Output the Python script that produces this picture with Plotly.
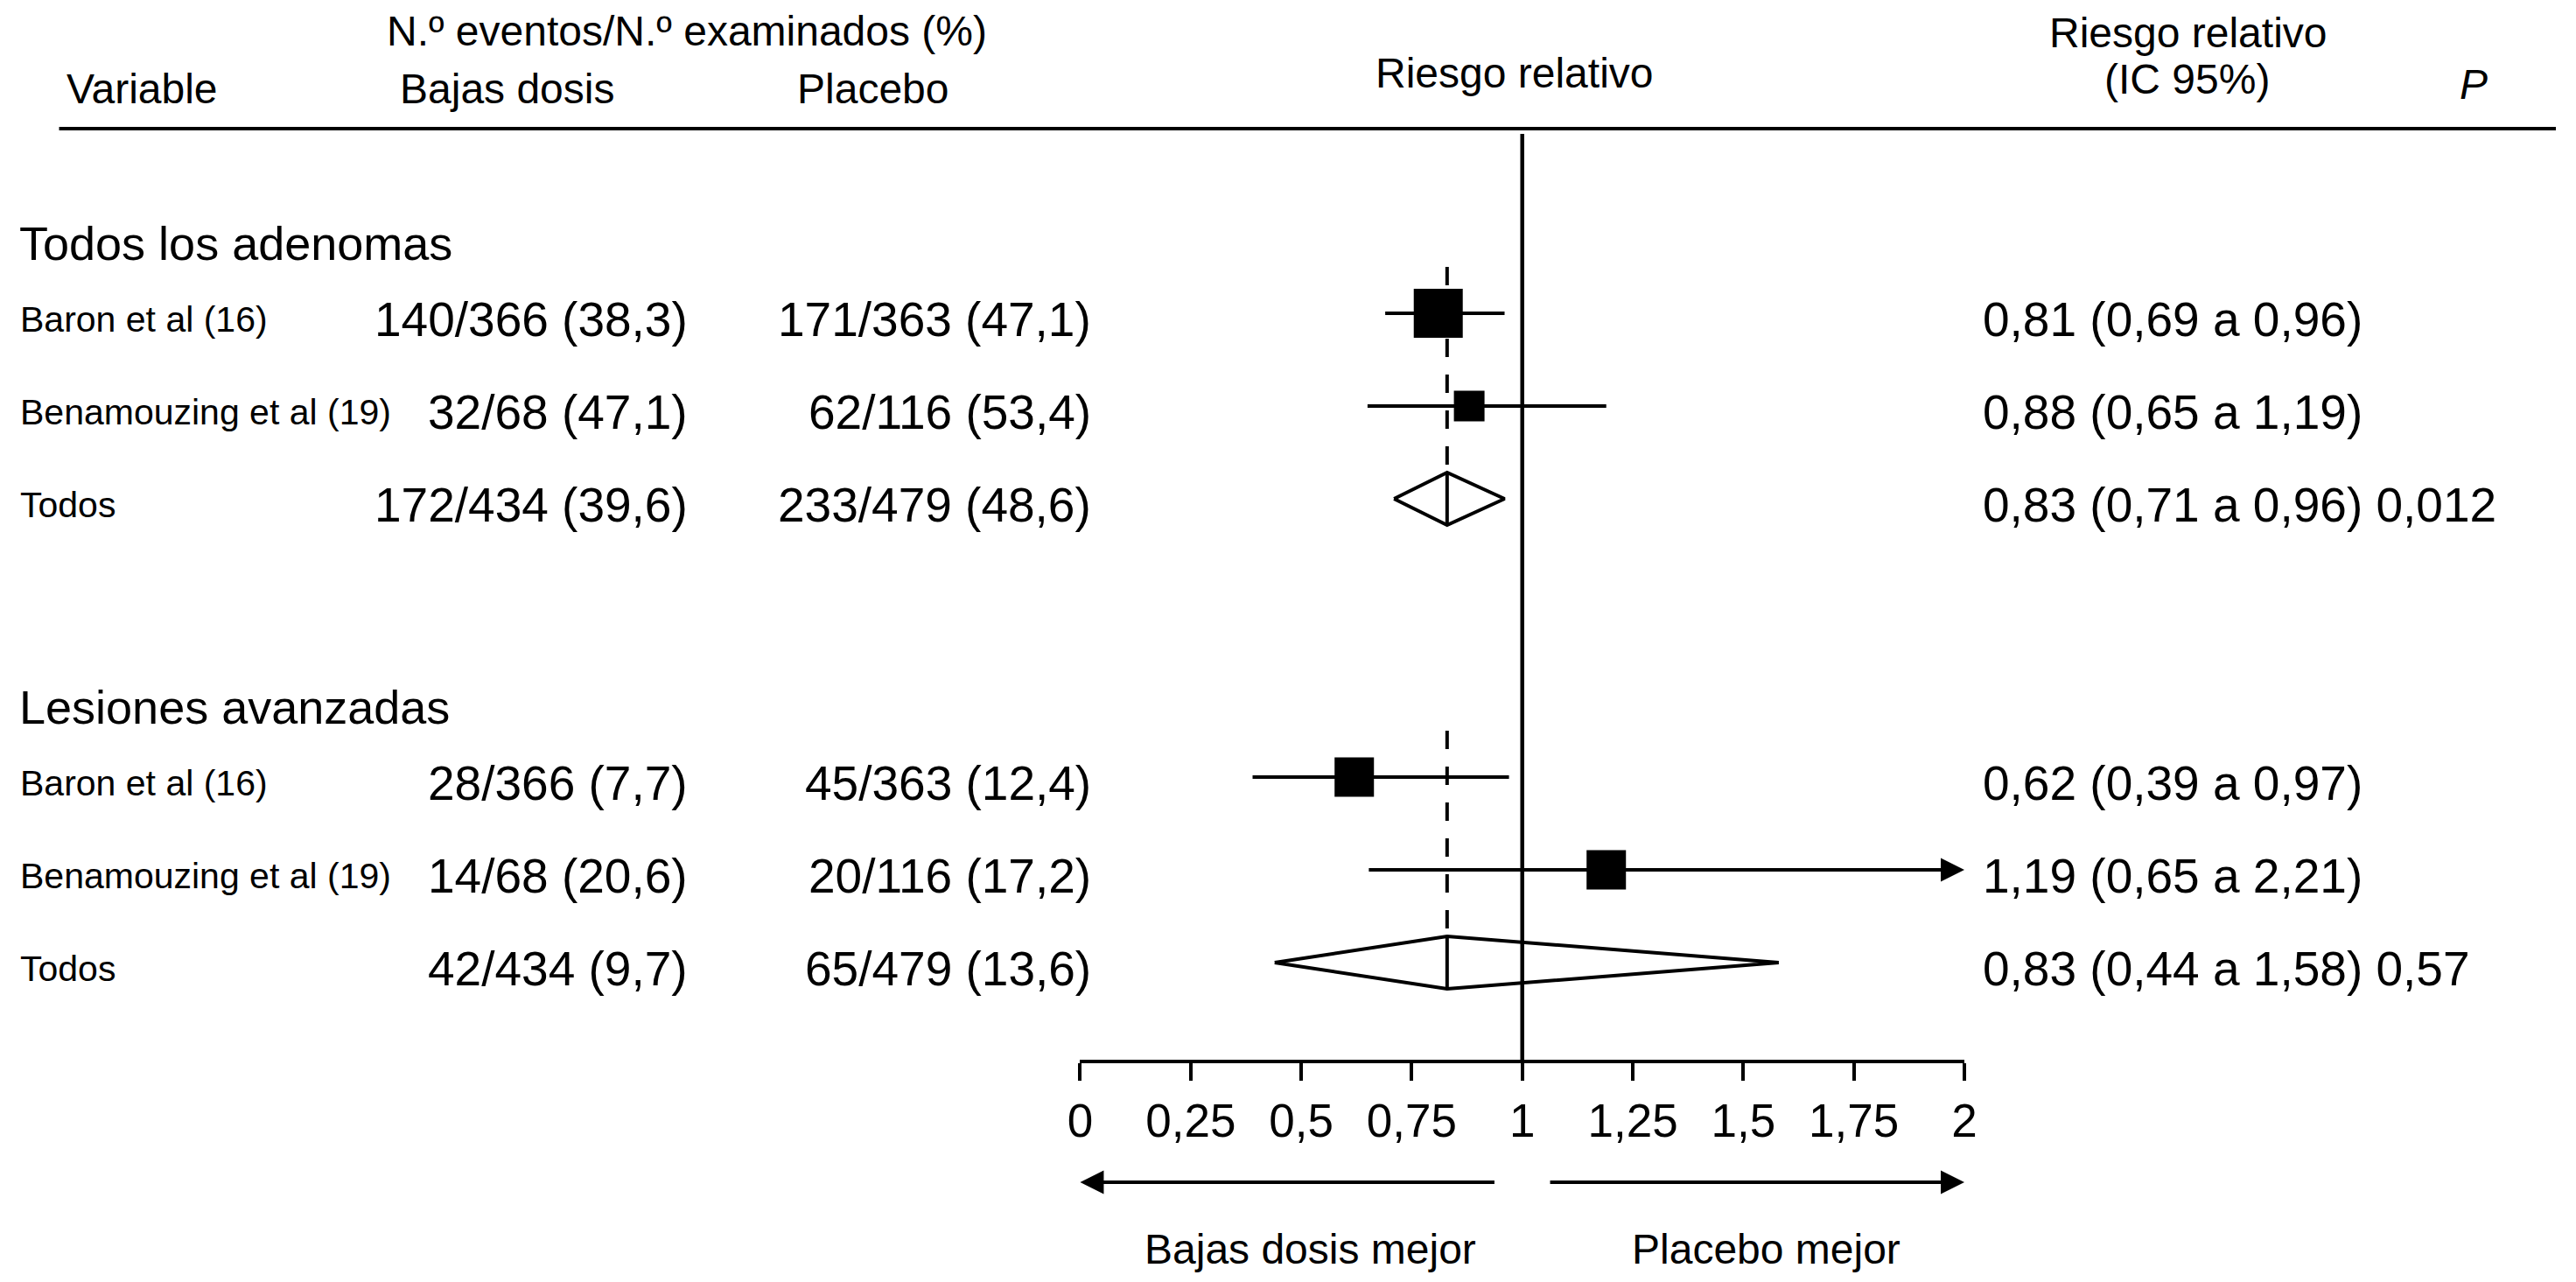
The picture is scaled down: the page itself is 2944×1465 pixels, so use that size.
import plotly.graph_objects as go

# ---- data ----
groups = ["Todos los adenomas", "Lesiones avanzadas"]
studies = ["Baron et al (16)", "Benamouzing et al (19)", "Todos"]
low_dose = ["140/366 (38,3)", "32/68 (47,1)", "172/434 (39,6)",
            "28/366 (7,7)", "14/68 (20,6)", "42/434 (9,7)"]
placebo = ["171/363 (47,1)", "62/116 (53,4)", "233/479 (48,6)",
           "45/363 (12,4)", "20/116 (17,2)", "65/479 (13,6)"]
rr = [0.81, 0.88, 0.83, 0.62, 1.19, 0.83]
ci_lo = [0.69, 0.65, 0.71, 0.39, 0.65, 0.44]
ci_hi = [0.96, 1.19, 0.96, 0.97, 2.21, 1.58]
p_vals = ["", "", "0,012", "", "", "0,57"]
pooled = [False, False, True, False, False, True]
tick_vals = [0, 0.25, 0.5, 0.75, 1, 1.25, 1.5, 1.75, 2]
tick_text = ["0", "0,25", "0,5", "0,75", "1", "1,25", "1,5", "1,75", "2"]

# ---- layout, in pixels of the 2944x1465 page ----
PAGE_W, PAGE_H = 2944, 1465
BODY = 8                        # browser default body margin
W, H = PAGE_W - 2 * BODY, PAGE_H - 2 * BODY
X0_PX, X2_PX = 1232, 2253       # where 0 and 2 sit on the axis
AXIS_PX = 1211                  # axis line
ROW0_PX, STEP = 252, 106        # row index 0 and row spacing
box_size = [56, 35, 0, 45, 45, 0]
DH = 30 / STEP                  # half height of the diamonds
FONT = "Liberation Sans, Arial, Helvetica, sans-serif"
XMAX = 2

row_y = [1 + 5 * g + k for g in range(len(groups)) for k in range(len(studies))]


def px(x):
    return (x - BODY) / W


def py(y):
    return 1 - (y - BODY) / H


def row_of(y):
    return (y - ROW0_PX) / STEP


fig = go.Figure()

# dashed line at the pooled estimate
for i, r in enumerate(rr):
    if pooled[i]:
        first = row_y[i] - 2
        fig.add_trace(go.Scatter(x=[r, r], y=[first - 0.5, row_y[i] - DH], mode="lines",
                                 line=dict(color="black", width=4, dash="21px,20px"),
                                 hoverinfo="skip", showlegend=False))

# confidence intervals
cx, cy = [], []
for i in range(len(rr)):
    if not pooled[i] and ci_hi[i] <= XMAX:
        cx += [ci_lo[i], ci_hi[i], None]
        cy += [row_y[i], row_y[i], None]
fig.add_trace(go.Scatter(x=cx, y=cy, mode="lines", line=dict(color="black", width=4),
                         hoverinfo="skip", showlegend=False))

# study squares
sq = [i for i in range(len(rr)) if not pooled[i]]
fig.add_trace(go.Scatter(x=[rr[i] for i in sq], y=[row_y[i] for i in sq], mode="markers",
                         marker=dict(symbol="square", color="black", opacity=1,
                                     size=[box_size[i] for i in sq], line=dict(width=0)),
                         hoverinfo="skip", showlegend=False))

# pooled diamonds
for i in range(len(rr)):
    if pooled[i]:
        y = row_y[i]
        fig.add_trace(go.Scatter(x=[ci_lo[i], rr[i], ci_hi[i], rr[i], ci_lo[i]],
                                 y=[y, y - DH, y, y + DH, y], mode="lines", fill="toself",
                                 fillcolor="white", line=dict(color="black", width=4),
                                 hoverinfo="skip", showlegend=False))
        fig.add_trace(go.Scatter(x=[rr[i], rr[i]], y=[y - DH, y + DH], mode="lines",
                                 line=dict(color="black", width=4),
                                 hoverinfo="skip", showlegend=False))

ann = []
shapes = []

# CI running off the scale -> arrow
for i in range(len(rr)):
    if not pooled[i] and ci_hi[i] > XMAX:
        ann.append(dict(x=XMAX, y=row_y[i], xref="x", yref="y", ax=ci_lo[i], ay=0,
                        axref="x", ayref="pixel", text="", showarrow=True,
                        arrowhead=2, arrowsize=1.35, arrowwidth=4, arrowcolor="black"))

# line of no effect
y_bottom = row_of(AXIS_PX)
shapes.append(dict(type="line", xref="x", yref="y", x0=1, x1=1,
                   y0=row_of(153), y1=y_bottom, line=dict(color="black", width=4.5)))
# header rule
shapes.append(dict(type="line", xref="paper", yref="paper", x0=px(53), x1=1,
                   y0=py(147), y1=py(147), line=dict(color="black", width=4)))


def txt(text, x, y, size, xanchor="left", yref="paper", yshift=0):
    ann.append(dict(text=text, x=x, y=y, xref="paper", yref=yref, xanchor=xanchor,
                    yanchor="middle", showarrow=False, yshift=yshift,
                    font=dict(family=FONT, size=size, color="black")))


# column headers
txt("N.º eventos/N.º examinados (%)", px(778), py(35), 48, "center")
txt("Variable", px(60), py(101), 48)
txt("Bajas dosis", px(570), py(101), 48, "center")
txt("Placebo", px(993), py(101), 48, "center")
txt("Riesgo relativo", px(1733), py(83), 48, "center")
txt("Riesgo relativo", px(2511), py(37), 48, "center")
txt("(IC 95%)", px(2510), py(91), 48, "center")
txt("<i>P</i>", px(2841), py(97), 48, "center")

# rows
for g, name in enumerate(groups):
    txt(name, px(5), row_y[3 * g] - 0.82, 54, yref="y", yshift=-7)
for i in range(len(rr)):
    y = row_y[i]
    txt(studies[i % 3], px(6), y, 41, yref="y", yshift=-7)
    txt(low_dose[i], px(781), y, 55, "right", yref="y", yshift=-7)
    txt(placebo[i], px(1247), y, 55, "right", yref="y", yshift=-7)
    s = f"{rr[i]:.2f} ({ci_lo[i]:.2f} a {ci_hi[i]:.2f})".replace(".", ",")
    if p_vals[i]:
        s += " " + p_vals[i]
    txt(s, px(2272), y, 55, yref="y", yshift=-7)

# favours arrows under the axis
for tip, tail in [(0, 0.94), (2, 1.06)]:
    ann.append(dict(x=tip, y=py(1351), xref="x", yref="paper", ax=tail, ay=0, axref="x",
                    ayref="pixel", text="", showarrow=True, arrowhead=2, arrowsize=1.35,
                    arrowwidth=4, arrowcolor="black"))
txt("Bajas dosis mejor", px(1498), py(1427), 48, "center")
txt("Placebo mejor", px(2024), py(1427), 48, "center")

fig.update_layout(
    width=W, height=H, autosize=False,
    margin=dict(l=0, r=0, t=0, b=0, pad=0),
    paper_bgcolor="white", plot_bgcolor="white",
    font=dict(family=FONT, color="black"),
    showlegend=False,
    annotations=ann, shapes=shapes,
    xaxis=dict(domain=[px(X0_PX), px(X2_PX)], range=[0, XMAX], showgrid=False,
               zeroline=False, showline=True, linecolor="black", linewidth=4,
               ticks="outside", ticklen=20, tickwidth=4, tickcolor="black",
               tickvals=tick_vals, ticktext=tick_text,
               tickfont=dict(family=FONT, size=53, color="black"), fixedrange=True),
    yaxis=dict(domain=[py(AXIS_PX), 1], range=[y_bottom, row_of(BODY)],
               visible=False, fixedrange=True),
)

fig.write_html("out.html")
